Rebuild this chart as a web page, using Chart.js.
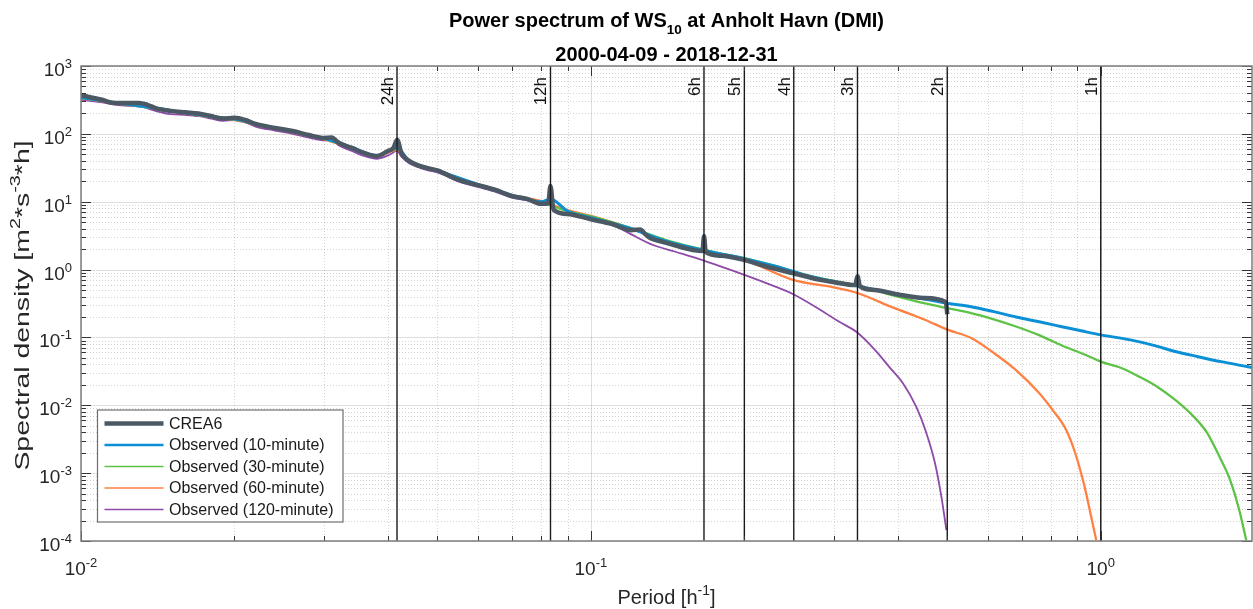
<!DOCTYPE html>
<html><head><meta charset="utf-8">
<script src="https://cdn.jsdelivr.net/npm/chart.js@4.4.0/dist/chart.umd.min.js"></script>
<style>html,body{margin:0;padding:0;background:#fff}#wrap{width:1253px;height:609px;position:relative}</style>
</head><body><div id="wrap"><canvas id="c"></canvas></div>
<script>
// ---------------- data ----------------
const xMin = 0.01, xMax = 1.98, yMin = 1e-4, yMax = 1e3;

const crea6Freq = [0.010,0.011,0.0115,0.012,0.013,0.0135,0.014,0.015,0.016,0.017,0.018,0.019,0.020,0.021,0.022,0.024,0.026,0.028,0.030,0.031,0.032,0.034,0.036,0.038,0.040,0.041,0.0417,0.0425,0.044,0.046,0.048,0.050,0.055,0.060,0.065,0.070,0.075,0.080,0.0825,0.0833,0.0845,0.090,0.100,0.110,0.120,0.125,0.128,0.130,0.140,0.150,0.160,0.1655,0.1667,0.168,0.180,0.200,0.220,0.250,0.280,0.300,0.330,0.3333,0.337,0.360,0.400,0.450,0.497,0.500];
const crea6Psd  = [370,318,288,284,286,268,240,218,208,200,183,168,172,160,140,122,110,96,87,88,74,62,52,47,56,62,82,52,40,34,31,29,21,17.6,14.9,12.1,11,9.3,9.5,17,7.6,6.6,5.5,4.7,3.8,3.9,3.3,3.0,2.5,2.15,1.92,1.88,3.1,1.82,1.6,1.38,1.12,0.88,0.71,0.65,0.59,0.80,0.57,0.50,0.43,0.38,0.33,0.22];

const obs10Freq = [0.010,0.012,0.014,0.016,0.018,0.020,0.022,0.025,0.028,0.030,0.034,0.038,0.0417,0.044,0.050,0.060,0.070,0.080,0.0833,0.090,0.100,0.120,0.140,0.160,0.180,0.200,0.230,0.270,0.333,0.410,0.500,0.557,0.617,0.682,0.757,0.839,0.920,1.000,1.143,1.265,1.400,1.553,1.722,1.944,1.980];
const obs10Psd  = [345,280,240,205,180,165,140,115,95,85,63,48,62,40,29,18,12.5,10,11,7.3,5.8,4.0,2.65,2.05,1.7,1.45,1.12,0.79,0.57,0.42,0.32,0.284,0.24,0.20,0.17,0.144,0.124,0.109,0.092,0.077,0.062,0.052,0.044,0.037,0.036];

const obs30Freq = [0.010,0.012,0.014,0.016,0.018,0.020,0.022,0.025,0.028,0.030,0.034,0.038,0.0417,0.044,0.050,0.060,0.070,0.080,0.090,0.100,0.120,0.140,0.160,0.180,0.200,0.230,0.270,0.333,0.400,0.450,0.500,0.557,0.617,0.682,0.757,0.839,0.930,1.000,1.097,1.190,1.290,1.400,1.522,1.618,1.722,1.794,1.869,1.929];
const obs30Psd  = [340,278,238,203,178,163,139,114,94,84,62,47,60,39,28.5,17.8,12.3,9.8,7.2,6.1,4.1,2.75,2.1,1.72,1.48,1.13,0.8,0.58,0.40,0.32,0.27,0.229,0.185,0.145,0.108,0.076,0.056,0.044,0.0355,0.0264,0.0188,0.012,0.0068,0.0039,0.00156,0.00079,0.000286,0.000103];

const obs60Freq = [0.010,0.012,0.014,0.016,0.018,0.020,0.022,0.025,0.028,0.030,0.034,0.038,0.0417,0.044,0.050,0.060,0.070,0.080,0.090,0.100,0.110,0.120,0.140,0.160,0.180,0.200,0.250,0.295,0.333,0.393,0.453,0.502,0.557,0.617,0.682,0.757,0.805,0.856,0.891,0.930,0.958,0.980];
const obs60Psd  = [335,275,235,200,176,160,137,113,93,83,61,47,58,39,28.5,18,12.6,10.2,7.5,6.2,5.0,4.0,2.6,2.0,1.62,1.38,0.70,0.56,0.452,0.272,0.181,0.129,0.098,0.059,0.033,0.0152,0.0085,0.0043,0.00198,0.000625,0.000226,0.000103];

const obs120Freq = [0.010,0.011,0.012,0.013,0.014,0.015,0.016,0.017,0.018,0.019,0.020,0.021,0.022,0.024,0.026,0.028,0.030,0.031,0.032,0.034,0.036,0.038,0.040,0.0417,0.0425,0.044,0.046,0.048,0.050,0.055,0.060,0.065,0.070,0.075,0.080,0.0833,0.0845,0.090,0.100,0.110,0.120,0.1324,0.1465,0.1655,0.1877,0.2208,0.250,0.283,0.307,0.333,0.361,0.385,0.409,0.435,0.453,0.473,0.487,0.498];
const obs120Psd  = [320,290,262,255,218,195,190,182,168,155,160,148,128,112,100,88,80,82,68,56,47,43,48,56,46,37,32,29,27,20,16.5,14,11.5,10.5,9,10.5,7.8,6.5,5.4,4.6,3.3,2.3,1.83,1.38,0.99,0.63,0.43,0.25,0.17,0.118,0.065,0.0366,0.0213,0.0094,0.0043,0.00141,0.000446,0.000145];

const seriesLabels = ['CREA6','Observed (10-minute)','Observed (30-minute)','Observed (60-minute)','Observed (120-minute)'];
const periodHours = [24,12,6,5,4,3,2,1];
const xTickExps = [-2,-1,0];
const yTickExps = [-4,-3,-2,-1,0,1,2,3];
const titleMain = ['Power spectrum of WS','10',' at Anholt Havn (DMI)'];
const titleSub = '2000-04-09 - 2018-12-31';

// ---------------- helpers ----------------
const FAM = '"Liberation Sans", Arial, sans-serif';
const pts = (f, p) => f.map((v, i) => ({x: v, y: p[i]}));
function logTicks(min, max) {
  const out = [];
  for (let e = Math.floor(Math.log10(min)); e <= Math.ceil(Math.log10(max)); e++) {
    for (let m = 1; m <= 9; m++) {
      const v = m * Math.pow(10, e);
      if (v >= min * 0.999999 && v <= max * 1.000001) out.push({value: v, major: m === 1});
    }
  }
  return out;
}
function drawRich(ctx, segs, x, y, o) {
  ctx.save();
  ctx.translate(x, y);
  if (o.rot) ctx.rotate(o.rot);
  if (o.sx) ctx.scale(o.sx, 1);
  ctx.fillStyle = o.color || '#262626';
  ctx.textBaseline = 'alphabetic';
  ctx.textAlign = 'left';
  let total = 0;
  const ws = segs.map(s => { ctx.font = (s.bold ? 'bold ' : '') + s.size + 'px ' + FAM; const w = ctx.measureText(s.t).width; total += w; return w; });
  let cx = o.align === 'center' ? -total / 2 : (o.align === 'right' ? -total : 0);
  segs.forEach((s, i) => { ctx.font = (s.bold ? 'bold ' : '') + s.size + 'px ' + FAM; ctx.fillText(s.t, cx, s.dy || 0); cx += ws[i]; });
  ctx.restore();
}
const colors = ['#4b5965', '#0b90d6', '#5ec246', '#ff8142', '#8d4aa7'];
const widths = [4.5, 3, 2.3, 2.3, 1.8];
const legendWidths = [4.5, 2.6, 1.6, 1.6, 1.6];

const matlabPlugin = {
  id: 'matlabLook',
  beforeDatasetsDraw(chart) {
    const {ctx, chartArea: a, scales: {x, y}} = chart;
    ctx.save();
    ctx.lineWidth = 1;
    const drawSet = (major) => {
      ctx.strokeStyle = major ? 'rgba(38,38,38,0.15)' : 'rgba(38,38,38,0.2)';
      ctx.setLineDash(major ? [] : [1, 2]);
      x.ticks.forEach(t => { if (!!t.major !== major) return; const px = Math.round(x.getPixelForValue(t.value)) + 0.5; ctx.beginPath(); ctx.moveTo(px, a.top); ctx.lineTo(px, a.bottom); ctx.stroke(); });
      y.ticks.forEach(t => { if (!!t.major !== major) return; const py = Math.round(y.getPixelForValue(t.value)) + 0.5; ctx.beginPath(); ctx.moveTo(a.left, py); ctx.lineTo(a.right, py); ctx.stroke(); });
    };
    drawSet(false); drawSet(true);
    ctx.restore();
  },
  afterDatasetsDraw(chart) {
    const {ctx, chartArea: a, scales: {x}} = chart;
    ctx.save();
    periodHours.forEach(h => {
      const px = x.getPixelForValue(1 / h);
      ctx.strokeStyle = '#1a1a1a'; ctx.lineWidth = 1.4; ctx.setLineDash([]);
      ctx.beginPath(); ctx.moveTo(px, a.top); ctx.lineTo(px, a.bottom); ctx.stroke();
      drawRich(ctx, [{t: h + 'h', size: 17}], px - 4, a.top + 11, {rot: -Math.PI / 2, align: 'right', color: '#111'});
    });
    ctx.restore();
  },
  afterDraw(chart) {
    const {ctx, chartArea: a, scales: {x, y}} = chart;
    ctx.save();
    // ticks (inward, all four sides)
    ctx.strokeStyle = '#333'; ctx.lineWidth = 1; ctx.setLineDash([]);
    x.ticks.forEach(t => {
      const px = Math.round(x.getPixelForValue(t.value)) + 0.5; const L = t.major ? 10 : 5;
      ctx.beginPath(); ctx.moveTo(px, a.bottom); ctx.lineTo(px, a.bottom - L); ctx.moveTo(px, a.top); ctx.lineTo(px, a.top + L); ctx.stroke();
    });
    y.ticks.forEach(t => {
      const py = Math.round(y.getPixelForValue(t.value)) + 0.5; const L = t.major ? 10 : 5;
      ctx.beginPath(); ctx.moveTo(a.left, py); ctx.lineTo(a.left + L, py); ctx.moveTo(a.right, py); ctx.lineTo(a.right - L, py); ctx.stroke();
    });
    // axes box
    ctx.strokeStyle = '#7d7d7d'; ctx.lineWidth = 1.5;
    ctx.strokeRect(a.left, a.top, a.right - a.left, a.bottom - a.top);
    // tick labels
    xTickExps.forEach(e => {
      const px = x.getPixelForValue(Math.pow(10, e));
      drawRich(ctx, [{t: '10', size: 19}, {t: String(e), size: 13, dy: -8}], px, a.bottom + 34, {align: 'center'});
    });
    yTickExps.forEach(e => {
      const py = y.getPixelForValue(Math.pow(10, e));
      drawRich(ctx, [{t: '10', size: 19}, {t: String(e), size: 13, dy: -8}], a.left - 9, py + 10, {align: 'right'});
    });
    // axis titles
    drawRich(ctx, [{t: 'Period [h', size: 20}, {t: '-1', size: 14, dy: -9}, {t: ']', size: 20}], (a.left + a.right) / 2, 604, {align: 'center'});
    drawRich(ctx, [{t: 'Spectral density [m', size: 20}, {t: '2', size: 14, dy: -9}, {t: '*s', size: 20}, {t: '-3', size: 14, dy: -9}, {t: '*h]', size: 20}], 29, (a.top + a.bottom) / 2 + 2, {align: 'center', rot: -Math.PI / 2, sx: 1.42});
    // titles
    const cx = (a.left + a.right) / 2;
    drawRich(ctx, [{t: titleMain[0], size: 20, bold: true}, {t: titleMain[1], size: 13.5, bold: true, dy: 7}, {t: titleMain[2], size: 20, bold: true}], cx, 27, {align: 'center', color: '#000'});
    drawRich(ctx, [{t: titleSub, size: 20, bold: true}], cx, 61, {align: 'center', color: '#000'});
    // legend
    const lx = 97.5, ly = 410, lw = 245.5, lh = 112;
    ctx.fillStyle = '#fff'; ctx.fillRect(lx, ly, lw, lh);
    ctx.strokeStyle = '#6e6e6e'; ctx.lineWidth = 1.2; ctx.strokeRect(lx, ly, lw, lh);
    chart.data.datasets.forEach((ds, i) => {
      const ry = ly + 13.5 + i * 21.5;
      ctx.strokeStyle = ds.borderColor; ctx.lineWidth = legendWidths[i];
      ctx.beginPath(); ctx.moveTo(lx + 7, ry); ctx.lineTo(lx + 66, ry); ctx.stroke();
      ctx.fillStyle = '#1a1a1a'; ctx.font = '16px ' + FAM; ctx.textBaseline = 'middle'; ctx.textAlign = 'left';
      ctx.fillText(ds.label, lx + 71.5, ry + 1);
    });
    ctx.restore();
  }
};

const datasets = [
  [crea6Freq, crea6Psd], [obs10Freq, obs10Psd], [obs30Freq, obs30Psd], [obs60Freq, obs60Psd], [obs120Freq, obs120Psd]
].map((d, i) => ({
  label: seriesLabels[i], data: pts(d[0], d[1]), borderColor: colors[i], backgroundColor: colors[i],
  borderWidth: widths[i], pointRadius: 0, cubicInterpolationMode: 'monotone', fill: false, borderJoinStyle: 'round'
}));

new Chart(document.getElementById('c'), {
  type: 'line',
  data: {datasets},
  options: {
    responsive: true, maintainAspectRatio: false, animation: false, events: [],
    parsing: false, normalized: true,
    layout: {padding: {left: 81, right: 1, top: 66, bottom: 68}},
    plugins: {legend: {display: false}, title: {display: false}, tooltip: {enabled: false}},
    scales: {
      x: {type: 'logarithmic', min: xMin, max: xMax, ticks: {display: false}, grid: {display: false}, border: {display: false},
          afterBuildTicks: s => { s.ticks = logTicks(xMin, xMax); }, afterFit: s => { s.height = 0; }},
      y: {type: 'logarithmic', min: yMin, max: yMax, ticks: {display: false}, grid: {display: false}, border: {display: false},
          afterBuildTicks: s => { s.ticks = logTicks(yMin, yMax); }, afterFit: s => { s.width = 0; }}
    }
  },
  plugins: [matlabPlugin]
});
</script></body></html>
